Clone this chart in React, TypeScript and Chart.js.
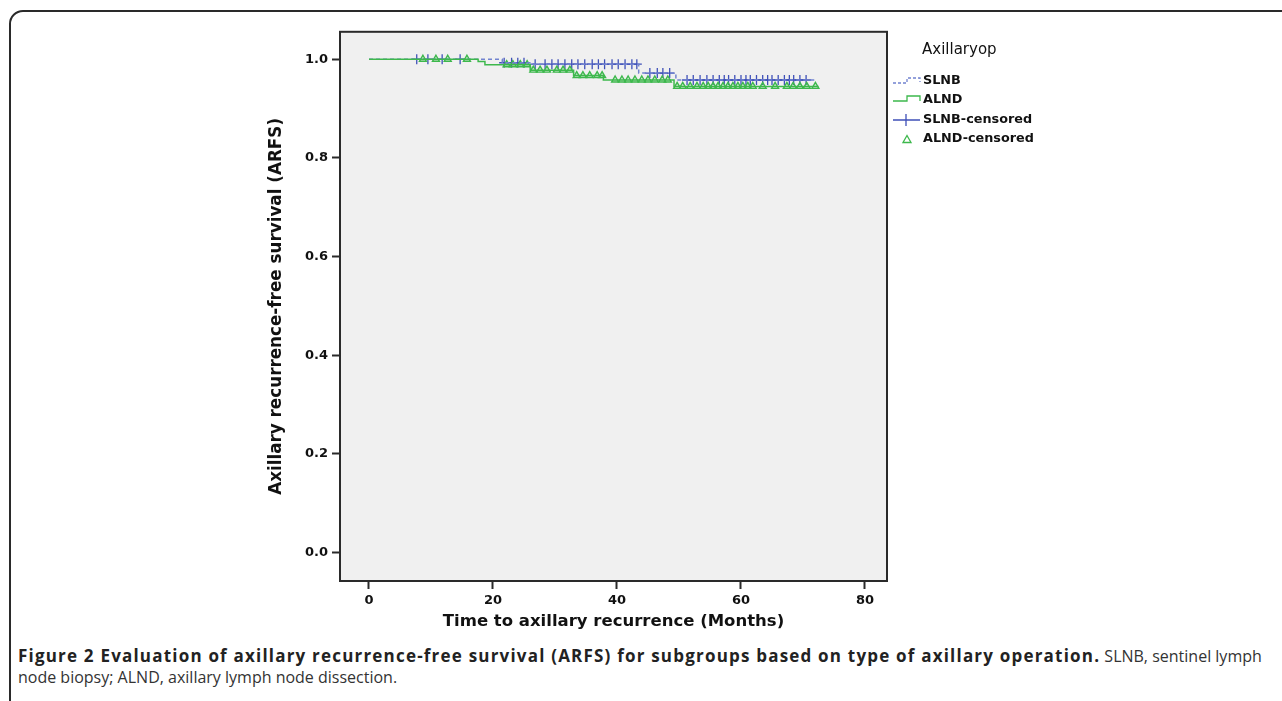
import React, { useEffect, useRef } from "react";
import { Chart, registerables } from "chart.js";

Chart.register(...registerables);

// ---- data ----
const slnbTimes = [0, 21.5, 26.5, 43.5, 49.5, 72.3];
const slnbSurv = [1, 0.993, 0.99, 0.972, 0.958, 0.958];
const alndTimes = [0, 17.6, 18.7, 26, 33, 37.8, 49.2, 72.5];
const alndSurv = [1, 0.9955, 0.989, 0.978, 0.967, 0.958, 0.945, 0.945];
const slnbCensored = [
  7.7, 9.5, 11.8, 14.7, 21.8, 23, 24, 25, 26.8, 28.4, 29.5, 30.5, 31.6, 32.7,
  33.7, 34.8, 36, 37, 38, 39.2, 40.2, 41.3, 42.4, 43.2, 45.3, 46.5, 47.4, 48.5,
  51.3, 52.3, 53.4, 54.5, 55.5, 56.5, 57.3, 58, 59, 60, 60.8, 61.5, 62.5, 63.5,
  64.3, 65, 66, 67, 67.8, 68.5, 69.5, 70.5,
];
const alndCensored = [
  8.7, 10.8, 12.7, 15.8, 22.2, 23.2, 24.4, 25.5, 26.5, 27.6, 28.7, 30.3, 31.3,
  32.4, 33.5, 34.5, 35.6, 36.8, 37.6, 39.7, 40.8, 41.8, 42.9, 44, 45, 46.1,
  47.3, 48.2, 49.7, 50.6, 51.8, 52.9, 53.9, 54.7, 55.5, 56.3, 57.1, 57.9, 58.7,
  59.5, 60.3, 61.1, 61.9, 63.5, 65.5, 67.4, 68.4, 69.5, 70.6, 72,
];
const xTickValues = [0, 20, 40, 60, 80];
const yTickValues = [0, 0.2, 0.4, 0.6, 0.8, 1.0];
const legendTitle = "Axillaryop";
const legendLabels = ["SLNB", "ALND", "SLNB-censored", "ALND-censored"];
const xTitle = "Time to axillary recurrence (Months)";
const yTitle = "Axillary recurrence-free survival (ARFS)";

const BLUE = "#3f50b8";
const BLUE_LIGHT = "#7283cf";
const GREEN = "#3db84c";
const AXIS = "#2a2a2a";
const FONT = "'DejaVu Sans', sans-serif";

function survAt(times: number[], surv: number[], t: number) {
  let v = surv[0];
  for (let i = 0; i < times.length; i++) if (times[i] <= t) v = surv[i];
  return v;
}

const framePlugin = {
  id: "frame",
  beforeDraw(chart: any) {
    const { ctx, chartArea: a } = chart;
    ctx.save();
    ctx.fillStyle = "#f0f0f0";
    ctx.fillRect(a.left, a.top, a.right - a.left, a.bottom - a.top);
    ctx.restore();
  },
  afterDraw(chart: any) {
    const { ctx, chartArea: a } = chart;
    ctx.save();
    ctx.strokeStyle = AXIS;
    ctx.lineWidth = 2;
    ctx.strokeRect(a.left, a.top, a.right - a.left, a.bottom - a.top);
    ctx.restore();
    // legend
    const gx = a.right + 6;
    const tx = gx + 30;
    ctx.save();
    ctx.fillStyle = "#111";
    ctx.textBaseline = "middle";
    ctx.textAlign = "left";
    ctx.font = `15px ${FONT}`;
    ctx.fillText(legendTitle, tx - 1, 30);
    ctx.font = `bold 12.8px ${FONT}`;
    const ys = [61, 80, 100, 119];
    legendLabels.forEach((l, i) => ctx.fillText(l, tx, ys[i]));
    // SLNB glyph
    let y = ys[0];
    ctx.strokeStyle = BLUE_LIGHT;
    ctx.lineWidth = 1.3;
    ctx.setLineDash([3, 2]);
    ctx.beginPath();
    ctx.moveTo(gx, y + 2);
    ctx.lineTo(gx + 14, y + 2);
    ctx.lineTo(gx + 14, y - 3);
    ctx.lineTo(gx + 27, y - 3);
    ctx.lineTo(gx + 27, y + 1);
    ctx.stroke();
    ctx.setLineDash([]);
    // ALND glyph
    y = ys[1];
    ctx.strokeStyle = GREEN;
    ctx.beginPath();
    ctx.moveTo(gx, y + 1);
    ctx.lineTo(gx + 14, y + 1);
    ctx.lineTo(gx + 14, y - 4);
    ctx.lineTo(gx + 27, y - 4);
    ctx.lineTo(gx + 27, y + 1);
    ctx.stroke();
    // SLNB censored
    y = ys[2];
    ctx.strokeStyle = BLUE;
    ctx.beginPath();
    ctx.moveTo(gx, y);
    ctx.lineTo(gx + 27, y);
    ctx.moveTo(gx + 13, y - 6);
    ctx.lineTo(gx + 13, y + 6);
    ctx.stroke();
    // ALND censored
    y = ys[3];
    ctx.strokeStyle = GREEN;
    ctx.beginPath();
    ctx.moveTo(gx + 10, y + 3.5);
    ctx.lineTo(gx + 14, y - 3.5);
    ctx.lineTo(gx + 18, y + 3.5);
    ctx.closePath();
    ctx.stroke();
    ctx.restore();
  },
};

export default function App() {
  const ref = useRef<HTMLCanvasElement>(null);
  useEffect(() => {
    document.body.style.overflow = "hidden";
    const slnbLine = slnbTimes.map((t, i) => ({ x: t, y: slnbSurv[i] }));
    const alndLine = alndTimes.map((t, i) => ({ x: t, y: alndSurv[i] }));
    const slnbC = slnbCensored.map((t) => ({ x: t, y: survAt(slnbTimes, slnbSurv, t) }));
    const alndC = alndCensored.map((t) => ({ x: t, y: survAt(alndTimes, alndSurv, t) }));
    const chart = new Chart(ref.current as HTMLCanvasElement, {
      type: "scatter",
      data: {
        datasets: [
          {
            label: "ALND",
            data: alndLine,
            showLine: true,
            stepped: "before",
            borderColor: GREEN,
            borderWidth: 1.5,
            pointRadius: 0,
          } as any,
          {
            label: "SLNB",
            data: slnbLine,
            showLine: true,
            stepped: "before",
            borderColor: BLUE_LIGHT,
            borderDash: [4, 3],
            borderWidth: 1.5,
            pointRadius: 0,
          } as any,
          {
            label: "ALND-censored",
            data: alndC,
            showLine: false,
            pointStyle: "triangle",
            pointRadius: 4,
            borderColor: GREEN,
            backgroundColor: "rgba(61,184,76,0.15)",
            borderWidth: 1.4,
          },
          {
            label: "SLNB-censored",
            data: slnbC,
            showLine: false,
            pointStyle: "cross",
            pointRadius: 5,
            borderColor: BLUE,
            borderWidth: 1.3,
          },
        ],
      },
      options: {
        animation: false,
        responsive: false,
        devicePixelRatio: 1,
        layout: { padding: { top: 11, right: 213, left: 0, bottom: 0 } },
        plugins: { legend: { display: false }, tooltip: { enabled: false } },
        scales: {
          x: {
            type: "linear",
            min: -4.677,
            max: 83.55,
            afterBuildTicks: (s: any) => {
              s.ticks = xTickValues.map((v) => ({ value: v }));
            },
            afterFit: (s: any) => {
              s.height = 51;
            },
            border: { display: false },
            grid: {
              display: true,
              drawOnChartArea: false,
              drawTicks: true,
              tickLength: 8,
              tickColor: AXIS,
              tickWidth: 2,
            },
            ticks: {
              color: "#111",
              font: { family: FONT, size: 13, weight: "bold" },
              padding: 4,
              maxRotation: 0,
              callback: (v: any) => String(v),
            },
            title: {
              display: true,
              text: xTitle,
              color: "#111",
              font: { family: FONT, size: 16.5, weight: "bold" },
              padding: { top: 0, bottom: 0 },
            },
          },
          y: {
            type: "linear",
            min: -0.0577,
            max: 1.0557,
            afterBuildTicks: (s: any) => {
              s.ticks = yTickValues.map((v) => ({ value: v }));
            },
            afterFit: (s: any) => {
              s.width = 100;
            },
            border: { display: false },
            grid: {
              display: true,
              drawOnChartArea: false,
              drawTicks: true,
              tickLength: 8,
              tickColor: AXIS,
              tickWidth: 2,
            },
            ticks: {
              color: "#111",
              font: { family: FONT, size: 13, weight: "bold" },
              padding: 4,
              callback: (v: any) => Number(v).toFixed(1),
            },
            title: {
              display: true,
              text: yTitle,
              color: "#111",
              font: { family: FONT, size: 16.8, weight: "bold" },
              padding: { top: 27, bottom: 0 },
            },
          },
        },
      },
      plugins: [framePlugin],
    });
    return () => chart.destroy();
  }, []);

  return (
    <div
      style={{
        position: "fixed",
        left: 0,
        top: 0,
        width: 1282,
        height: 701,
        overflow: "hidden",
        background: "#fff",
      }}
    >
      <div
        style={{
          position: "absolute",
          left: 9,
          top: 10,
          width: 1400,
          height: 800,
          border: "2px solid #2a2a2a",
          borderTopLeftRadius: 14,
        }}
      />
      <canvas
        ref={ref}
        width={860}
        height={612}
        style={{ position: "absolute", left: 240, top: 20, width: 860, height: 612 }}
      />
      <div
        style={{
          position: "absolute",
          left: 18,
          top: 645,
          width: 1262,
          fontFamily: "'Open Sans', sans-serif",
          fontSize: 16,
          lineHeight: "21px",
          color: "#333",
          whiteSpace: "nowrap",
        }}
      >
        <span style={{ fontWeight: 700, color: "#222", fontSize: 17, letterSpacing: "1.2px" }}>
          Figure 2 Evaluation of axillary recurrence-free survival (ARFS) for subgroups based on type of axillary operation.
        </span>{" "}
        <span style={{ fontWeight: 400 }}>SLNB, sentinel lymph</span>
        <br />
        <span style={{ fontWeight: 400 }}>node biopsy; ALND, axillary lymph node dissection.</span>
      </div>
    </div>
  );
}
